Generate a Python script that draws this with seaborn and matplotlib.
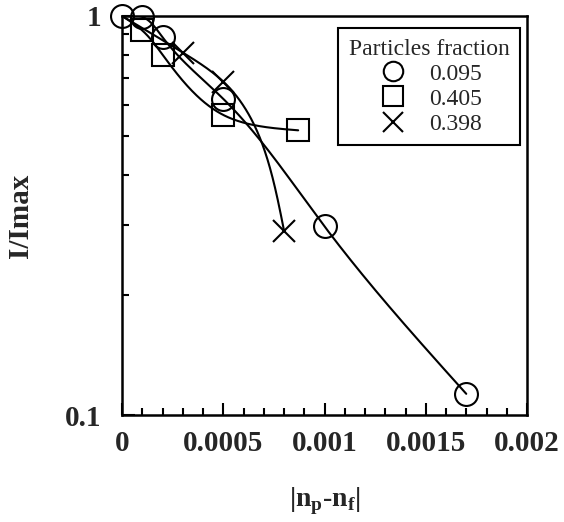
import numpy as np
import pandas as pd
import matplotlib
matplotlib.use("Agg")
import matplotlib.pyplot as plt
import seaborn as sns

# ---- data ----
x_095 = [0.0, 0.0001, 0.0002, 0.0005, 0.0010, 0.0017]
y_095 = [1.0, 0.995, 0.885, 0.62, 0.297, 0.113]
x_405 = [0.0, 0.0001, 0.0002, 0.0005, 0.00087]
y_405 = [1.0, 0.92, 0.80, 0.565, 0.517]
x_398 = [0.0, 0.0003, 0.0005, 0.0008]
y_398 = [1.0, 0.81, 0.685, 0.29]
series_labels = ["0.095", "0.405", "0.398"]
x_ticks = [0, 0.0005, 0.001, 0.0015, 0.002]
x_ticklabels = ["0", "0.0005", "0.001", "0.0015", "0.002"]

sns.set_style("ticks")
plt.rcParams["font.family"] = ["Liberation Serif", "DejaVu Serif"]
plt.rcParams["mathtext.fontset"] = "custom"
plt.rcParams["mathtext.rm"] = "Liberation Serif"
plt.rcParams["mathtext.bf"] = "Liberation Serif:bold"


def smooth(xs, ys, n=200):
    """Parametric natural cubic spline in (x/0.002, log10 y) space."""
    u = np.asarray(xs) / 0.002
    v = np.log10(np.asarray(ys))
    P = np.column_stack([u, v])
    d = np.sqrt(((P[1:] - P[:-1]) ** 2).sum(1))
    t = np.concatenate([[0], np.cumsum(d)])
    m = len(t)
    h = np.diff(t)
    A = np.zeros((m, m))
    B = np.zeros((m, 2))
    A[0, 0] = A[-1, -1] = 1
    for i in range(1, m - 1):
        A[i, i - 1] = h[i - 1]
        A[i, i] = 2 * (h[i - 1] + h[i])
        A[i, i + 1] = h[i]
        B[i] = 6 * ((P[i + 1] - P[i]) / h[i] - (P[i] - P[i - 1]) / h[i - 1])
    M = np.linalg.solve(A, B)
    ts = np.linspace(0, t[-1], n)
    out = []
    for tt in ts:
        i = min(np.searchsorted(t, tt, side="right") - 1, m - 2)
        a = t[i + 1] - tt
        b = tt - t[i]
        hi = h[i]
        val = (M[i] * a ** 3 / (6 * hi) + M[i + 1] * b ** 3 / (6 * hi)
               + (P[i] / hi - M[i] * hi / 6) * a + (P[i + 1] / hi - M[i + 1] * hi / 6) * b)
        out.append(val)
    out = np.array(out)
    return out[:, 0] * 0.002, 10 ** out[:, 1]


fig = plt.figure(figsize=(5.64, 5.22), dpi=100)
ax = fig.add_axes([122 / 564, 1 - 415 / 522, 405 / 564, 399 / 522])
ax.set_yscale("log")

all_x = [x_095, x_405, x_398]
all_y = [y_095, y_405, y_398]

curves = []
pts = []
for lab, xs, ys in zip(series_labels, all_x, all_y):
    cx, cy = smooth(xs, ys)
    curves.append(pd.DataFrame({"x": cx, "y": cy, "s": lab}))
    pts.append(pd.DataFrame({"x": xs, "y": ys, "s": lab}))
curve_df = pd.concat(curves)
pts_df = pd.concat(pts)

for lab in series_labels:
    sub = curve_df[curve_df.s == lab]
    sns.lineplot(data=sub, x="x", y="y", sort=False, ax=ax, color="black",
                 lw=1.5, estimator=None, legend=False)

mk = {"0.095": "o", "0.405": "s", "0.398": "x"}
handles = []
for lab in series_labels:
    sub = pts_df[pts_df.s == lab]
    # the origin marker is only visible for the first series (others hidden under it)
    if lab != "0.095":
        sub = sub[sub.x > 0]
    h, = ax.plot(sub.x, sub.y, linestyle="none", marker=mk[lab], markersize=16.5,
                 markerfacecolor="none", markeredgecolor="black", markeredgewidth=1.5,
                 clip_on=False, zorder=5, label=lab)
    handles.append(h)

ax.set_xlim(0, 0.002)
ax.set_ylim(0.1, 1)
ax.set_xticks(x_ticks)
ax.set_xticklabels(x_ticklabels)
ax.set_xticks(np.arange(0, 0.002001, 0.0001), minor=True)
ax.set_yticks([0.1, 1])
ax.set_yticklabels(["0.1", "1"])
ax.set_yticks([0.2, 0.3, 0.4, 0.5, 0.6, 0.7, 0.8, 0.9], minor=True)
ax.yaxis.set_minor_formatter(matplotlib.ticker.NullFormatter())

ax.tick_params(which="both", direction="in", color="black", width=1.5)
ax.tick_params(which="major", length=9, labelsize=21, pad=11)
ax.tick_params(which="minor", length=5)
ax.tick_params(axis="y", which="major", pad=15)
for lbl in ax.get_xticklabels() + ax.get_yticklabels():
    lbl.set_fontweight("bold")

for sp in ax.spines.values():
    sp.set_visible(True)
    sp.set_linewidth(1.8)
    sp.set_color("black")

ax.set_xlabel(r"|n$_\mathbf{p}$-n$_\mathbf{f}$|", fontsize=20, fontweight="bold", labelpad=20)
ax.set_ylabel("I/Imax", fontsize=21, fontweight="bold", labelpad=22)

leg = ax.legend(handles=handles, labels=series_labels, title="Particles fraction",
                loc="upper right", bbox_to_anchor=(0.983, 0.97), frameon=True,
                fancybox=False, edgecolor="black", fontsize=17, title_fontsize=17,
                handletextpad=0.8, borderpad=0.45, labelspacing=0.15, handlelength=1.4,
                markerscale=0.85, borderaxespad=0)
leg.get_frame().set_linewidth(1.5)
leg.get_frame().set_alpha(1)

fig.savefig("out.png", dpi=100)
